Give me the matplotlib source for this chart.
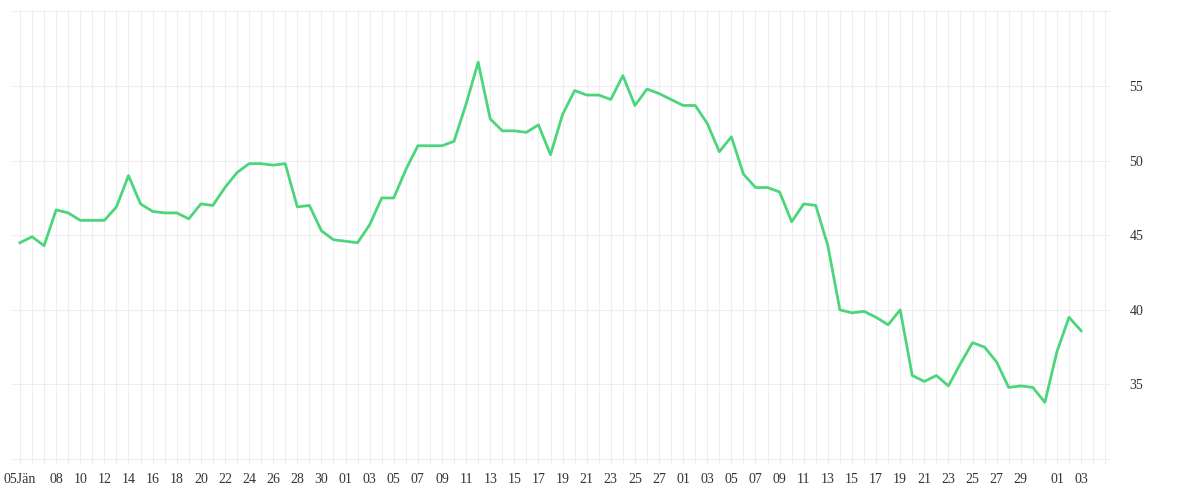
import numpy as np
import pandas as pd
import matplotlib.pyplot as plt

start = "2021-01-05"
values = [44.5, 44.9, 44.3, 46.7, 46.5, 46.0, 46.0, 46.0, 46.9, 49.0,
          47.1, 46.6, 46.5, 46.5, 46.1, 47.1, 47.0, 48.2, 49.2, 49.8,
          49.8, 49.7, 49.8, 46.9, 47.0, 45.3, 44.7, 44.6, 44.5, 45.7,
          47.5, 47.5, 49.4, 51.0, 51.0, 51.0, 51.3, 53.8, 56.6, 52.8,
          52.0, 52.0, 51.9, 52.4, 50.4, 53.1, 54.7, 54.4, 54.4, 54.1,
          55.7, 53.7, 54.8, 54.5, 54.1, 53.7, 53.7, 52.5, 50.6, 51.6,
          49.1, 48.2, 48.2, 47.9, 45.9, 47.1, 47.0, 44.3, 40.0, 39.8,
          39.9, 39.5, 39.0, 40.0, 35.6, 35.2, 35.6, 34.9, 36.4, 37.8,
          37.5, 36.5, 34.8, 34.9, 34.8, 33.8, 37.2, 39.5, 38.6]
dates = pd.date_range(start, periods=len(values), freq="D")
yticks = [35, 40, 45, 50, 55]

tick_dates = ([pd.Timestamp(start)]
              + list(pd.date_range("2021-01-08", "2021-01-30", freq="2D"))
              + list(pd.date_range("2021-02-01", "2021-02-27", freq="2D"))
              + list(pd.date_range("2021-03-01", "2021-03-29", freq="2D"))
              + [pd.Timestamp("2021-04-01"), pd.Timestamp("2021-04-03")])
tick_labels = ["05Jän"] + [d.strftime("%d") for d in tick_dates[1:]]

fig = plt.figure(figsize=(12, 5), dpi=100)
ax = fig.add_axes([0.01, 0.07, 0.915, 0.91])
ax.plot(dates, values, color="#4cd67c", lw=2)

ax.set_ylim(29.6, 60.1)
ax.set_xlim(pd.Timestamp(start) - pd.Timedelta(days=0.66), pd.Timestamp(start) + pd.Timedelta(days=90.4))
ax.yaxis.tick_right()
ax.set_yticks(yticks)
ax.set_yticks([30, 60], minor=True)
ax.set_xticks(tick_dates)
ax.set_xticklabels(tick_labels)
ax.set_xticks(pd.date_range("2021-01-05", "2021-04-05", freq="D"), minor=True)
ax.grid(which="both", color="#eeeeee", lw=0.8)
ax.set_axisbelow(True)
ax.tick_params(which="both", length=0, labelsize=10, labelcolor="#333333", pad=6)
ax.tick_params(axis="y", pad=14)
for lbl in ax.get_xticklabels() + ax.get_yticklabels():
    lbl.set_family("Liberation Serif")
for s in ax.spines.values():
    s.set_visible(False)

fig.savefig("out.png")
